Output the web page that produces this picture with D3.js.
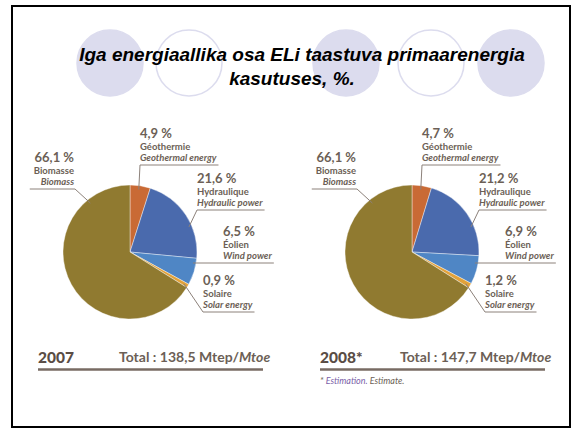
<!DOCTYPE html>
<html><head><meta charset="utf-8">
<script src="https://cdn.jsdelivr.net/npm/d3@7/dist/d3.min.js"></script>
<style>body{margin:0;background:#fff}svg{display:block}</style>
</head><body>
<script>
// ---- data ----
const categories = ["geothermal","hydraulic","wind","solar","biomass"];
const labelsFr = ["Géothermie","Hydraulique","Éolien","Solaire","Biomasse"];
const labelsEn = ["Geothermal energy","Hydraulic power","Wind power","Solar energy","Biomass"];
const values2007 = [4.9, 21.6, 6.5, 0.9, 66.1];
const values2008 = [4.7, 21.2, 6.9, 1.2, 66.1];
const years = ["2007","2008*"];
const totals = ["138,5","147,7"];
const titleLines = ["Iga energiaallika osa ELi taastuva primaarenergia","kasutuses, %."];

const colors = {geothermal:"#c96a35", hydraulic:"#4a6aad", wind:"#4f86c5", solar:"#e2a23a", biomass:"#907a30"};
const textCol = "#6c5f56";
const lblFont = "Lato, 'Open Sans', sans-serif";

const W=573,H=429;
const svg = d3.select("body").append("svg").attr("width",W).attr("height",H);

// frame
svg.append("rect").attr("x",12).attr("y",6).attr("width",558).attr("height",421)
  .attr("fill","#fff").attr("stroke","#000").attr("stroke-width",2);

// header circles
const circ = [{x:110,f:true},{x:189,f:false},{x:346,f:true},{x:431,f:false},{x:511,f:true}];
svg.selectAll("circle.hd").data(circ).join("circle").attr("class","hd")
  .attr("cx",d=>d.x).attr("cy",63).attr("r",33)
  .attr("fill",d=>d.f?"#dcdcee":"#fff").attr("stroke","#dcdcee").attr("stroke-width",1.5);

// title
svg.append("text").attr("x",302).attr("y",61).attr("text-anchor","middle")
  .style("font","italic bold 19px 'Liberation Sans', Arial, sans-serif").text(titleLines[0]);
svg.append("text").attr("x",292).attr("y",85).attr("text-anchor","middle")
  .style("font","italic bold 19px 'Liberation Sans', Arial, sans-serif").text(titleLines[1]);

// label layout (relative to pie center): text x, underline y, leader end polar (deg, r)
const layout = {
  geothermal:{tx:10, u:165, anchor:"start", ang:8, rr:63},
  hydraulic:{tx:67, u:210, anchor:"start", ang:67, rr:64},
  wind:{tx:93, u:263, anchor:"start", ang:100, rr:64, ux0:63},
  solar:{tx:73, u:312, anchor:"start", ang:120.5, rr:62.5},
  biomass:{tx:-56, u:189, anchor:"end", ang:-39, rr:63}
};

const R = 67, cy = 252;
const pie = d3.pie().sort(null).value(d=>d.v);
const arc = d3.arc().innerRadius(0).outerRadius(R);
const fmt = v => d3.format(".1f")(v).replace(".",",");

function drawChart(cx, vals, yi){
  const g = svg.append("g");
  const data = categories.map((c,i)=>({c, v:vals[i], fr:labelsFr[i], en:labelsEn[i]}));
  const pg = g.append("g").attr("transform",`translate(${cx},${cy})`);
  pg.selectAll("path").data(pie(data)).join("path")
    .attr("d",arc).attr("fill",d=>colors[d.data.c]).attr("stroke","#fff").attr("stroke-width",0.4);

  data.forEach(d=>{
    const L = layout[d.c];
    const x = cx + L.tx;
    const lg = g.append("g");
    lg.append("text").attr("x",x).attr("y",L.u-27).attr("text-anchor",L.anchor)
      .attr("fill",textCol).style("font",`bold 13px ${lblFont}`).text(fmt(d.v)+" %");
    const t2 = lg.append("text").attr("x",x).attr("y",L.u-15).attr("text-anchor",L.anchor)
      .attr("fill",textCol).style("font",`bold 9.5px ${lblFont}`).text(d.fr);
    const t3 = lg.append("text").attr("x",x).attr("y",L.u-4).attr("text-anchor",L.anchor)
      .attr("fill",textCol).style("font",`italic bold 9.5px ${lblFont}`).text(d.en);
    const wmax = Math.max(t2.node().getComputedTextLength(), t3.node().getComputedTextLength());
    const p = d3.pointRadial(L.ang*Math.PI/180, L.rr);
    const px = cx+p[0], py = cy+p[1];
    let x0, x1, jx;
    if (L.anchor==="end"){ x0 = x - wmax - 4; x1 = x + 1; jx = x1; }
    else { x0 = (L.ux0!==undefined)? cx+L.ux0 : x; x1 = x + wmax + 2; jx = x0; }
    lg.append("line").attr("x1",x0).attr("x2",x1).attr("y1",L.u).attr("y2",L.u)
      .attr("stroke","#8c817a").attr("stroke-width",1);
    lg.append("line").attr("x1",jx).attr("y1",L.u).attr("x2",px).attr("y2",py)
      .attr("stroke","#8c817a").attr("stroke-width",1);
  });
}

drawChart(130, values2007, 0);
drawChart(412, values2008, 1);

// bottom captions
function caption(x0, x1, tx, year, total){
  svg.append("text").attr("x",x0).attr("y",363).attr("fill","#5a4d45")
    .style("font",`900 15.5px ${lblFont}`).text(year);
  const t = svg.append("text").attr("x",tx).attr("y",362).attr("fill","#6c5f56")
    .style("font",`bold 14px ${lblFont}`);
  t.append("tspan").text("Total : "+total+" ");
  t.append("tspan").text("Mtep/");
  t.append("tspan").style("font-style","italic").text("Mtoe");
  svg.append("line").attr("x1",x0).attr("x2",x1).attr("y1",369.5).attr("y2",369.5)
    .attr("stroke","#786b63").attr("stroke-width",2.5);
}
caption(38, 263, 119, years[0], totals[0]);
caption(320, 545, 400, years[1], totals[1]);

const fn = svg.append("text").attr("x",320).attr("y",384)
  .style("font",`italic 9px ${lblFont}`).attr("fill","#6c5f56");
fn.append("tspan").text("* ");
fn.append("tspan").attr("fill","#7b5fa8").text("Estimation. ");
fn.append("tspan").text("Estimate.");
</script>
</body></html>
